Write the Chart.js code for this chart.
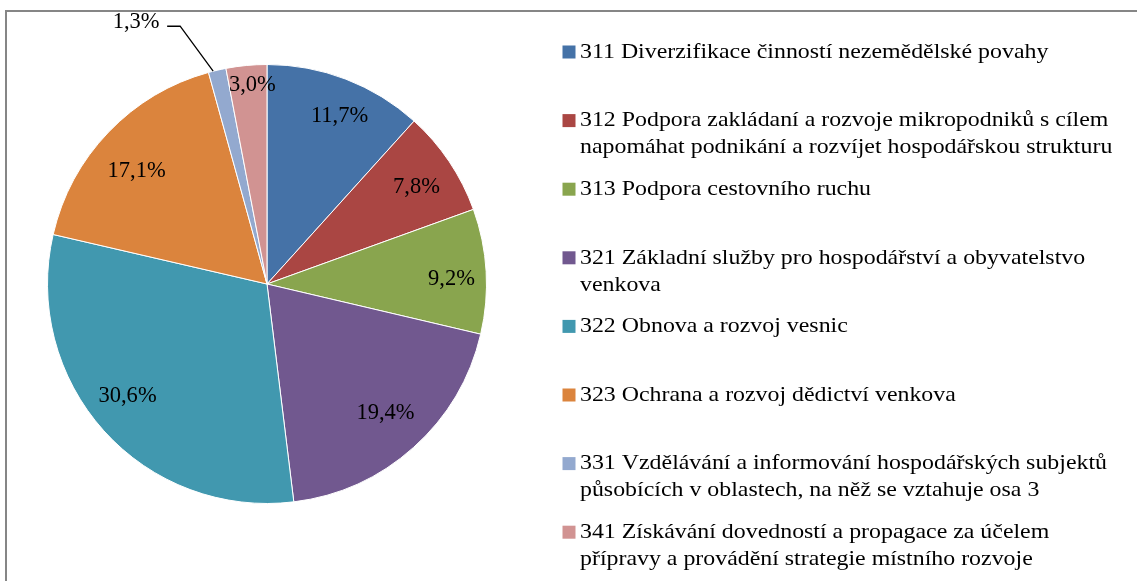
<!DOCTYPE html>
<html>
<head>
<meta charset="utf-8">
<script src="https://cdn.jsdelivr.net/npm/chart.js@4.4.0/dist/chart.umd.min.js"></script>
<style>
body { margin: 0; background: #fff; overflow: hidden; }
#wrap { position: relative; width: 1137px; height: 581px; }
</style>
</head>
<body>
<div id="wrap"><canvas id="PieChart"></canvas></div>
<script>
const categories = [
  "311 Diverzifikace činností nezemědělské povahy",
  "312 Podpora zakládaní a rozvoje mikropodniků s cílem\nnapomáhat podnikání a rozvíjet hospodářskou strukturu",
  "313 Podpora cestovního ruchu",
  "321 Základní služby pro hospodářství a obyvatelstvo\nvenkova",
  "322 Obnova a rozvoj vesnic",
  "323 Ochrana a rozvoj dědictví venkova",
  "331 Vzdělávání a informování hospodářských subjektů\npůsobících v oblastech, na něž se vztahuje osa 3",
  "341 Získávání dovedností a propagace za účelem\npřípravy a provádění strategie místního rozvoje"
];
const shares = [11.7, 7.8, 9.2, 19.4, 30.6, 17.1, 1.3, 3.0];
const colors = ['#4572A7', '#AA4643', '#89A54E', '#71588F', '#4198AF', '#DB843D', '#93A9CF', '#D19392'];

const SERIF = "'Liberation Serif', 'Times New Roman', serif";

function fmt(v) {
    return v.toFixed(1).replace('.', ',') + '%';
}

// frame around the whole chart (right and bottom edges fall outside the picture)
const framePlugin = {
    id: 'frame',
    beforeDraw(chart) {
        const ctx = chart.ctx;
        ctx.save();
        ctx.strokeStyle = '#868686';
        ctx.lineWidth = 2;
        ctx.strokeRect(6, 11, 1200, 650);
        ctx.restore();
    }
};

// percentage labels on the slices
const labelPlugin = {
    id: 'sliceLabels',
    afterDatasetsDraw(chart) {
        const ctx = chart.ctx;
        const meta = chart.getDatasetMeta(0);
        const dist = [0.834, 0.812, 0.841, 0.798, 0.815, 0.786, 1, 0.909];
        const turn = [2.3, 0.9, 1.7, -0.7, 3.2, -2.9, 0, 1.2]; // degrees
        ctx.save();
        ctx.font = '22.5px ' + SERIF;
        ctx.fillStyle = '#000';
        ctx.textAlign = 'center';
        ctx.textBaseline = 'middle';
        meta.data.forEach(function (arc, i) {
            const p = arc.getProps(['x', 'y', 'startAngle', 'endAngle', 'outerRadius'], true);
            const mid = (p.startAngle + p.endAngle) / 2;
            const text = fmt(shares[i]);
            if (i === 6) {
                // small slice: label outside with a leader line
                const ex = p.x + Math.cos(mid) * p.outerRadius;
                const ey = p.y + Math.sin(mid) * p.outerRadius;
                ctx.beginPath();
                ctx.strokeStyle = '#000';
                ctx.lineWidth = 1.3;
                ctx.moveTo(ex - 4, ey + 1);
                ctx.lineTo(ex - 37, ey - 44);
                ctx.lineTo(ex - 50, ey - 44);
                ctx.stroke();
                ctx.fillText(text, ex - 81, ey - 48);
                return;
            }
            const a = mid + turn[i] * Math.PI / 180;
            const r = p.outerRadius * dist[i];
            ctx.fillText(text, p.x + Math.cos(a) * r, p.y + Math.sin(a) * r);
        });
        ctx.restore();
    }
};

// legend on the right side
const legendPlugin = {
    id: 'sideLegend',
    afterDraw(chart) {
        const ctx = chart.ctx;
        ctx.save();
        ctx.font = '22px ' + SERIF;
        ctx.textBaseline = 'middle';
        categories.forEach(function (cat, i) {
            const y = 52 + i * 68.6;
            ctx.fillStyle = colors[i];
            ctx.fillRect(562.5, y - 6.5, 13, 13);
            ctx.fillStyle = '#000';
            cat.split('\n').forEach(function (line, j) {
                ctx.save();
                ctx.translate(580, y + j * 27);
                ctx.scale(1.085, 1);
                ctx.fillText(line, 0, 0);
                ctx.restore();
            });
        });
        ctx.restore();
    }
};

const ctx = document.getElementById('PieChart');
const myPieChart = new Chart(ctx, {
    type: 'pie',
    data: {
        labels: categories,
        datasets: [{
            data: shares,
            backgroundColor: colors,
            borderColor: '#ffffff',
            borderWidth: 1,
        }],
    },
    options: {
        responsive: true,
        maintainAspectRatio: false,
        animation: false,
        layout: {
            padding: { left: 46, right: 649, top: 64, bottom: 77 }
        },
        plugins: {
            legend: { display: false },
            tooltip: { enabled: false },
        },
    },
    plugins: [framePlugin, labelPlugin, legendPlugin],
});
</script>
</body>
</html>
